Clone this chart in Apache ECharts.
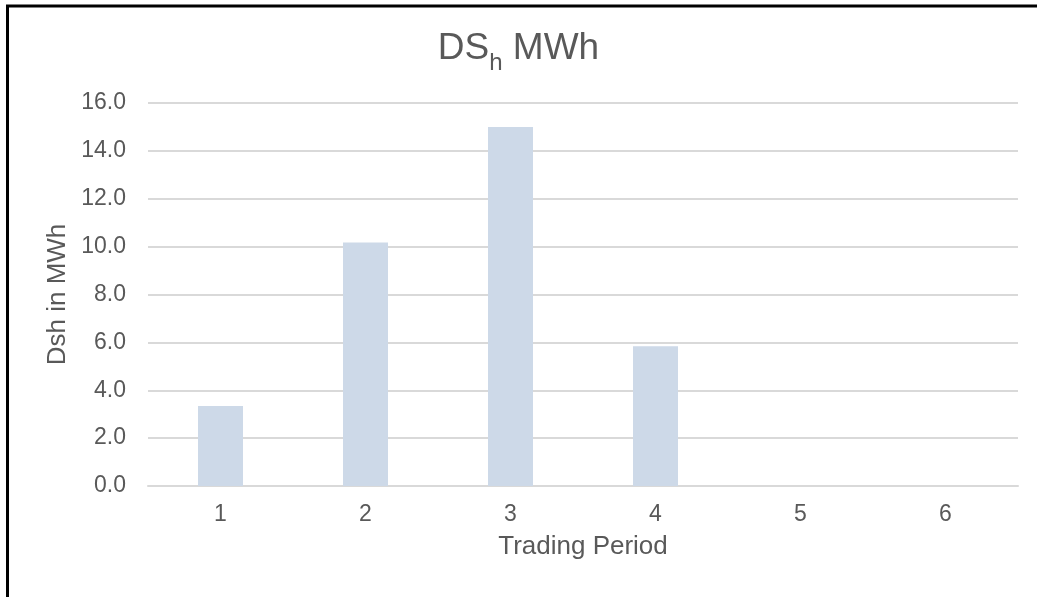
<!DOCTYPE html>
<html>
<head>
<meta charset="utf-8">
<script src="https://cdn.jsdelivr.net/npm/echarts@6/dist/echarts.min.js"></script>
<style>
html,body{margin:0;padding:0;background:#fff;}
#chart{width:1037px;height:597px;}
</style>
</head>
<body>
<div id="chart"></div>
<script>
const categories = ['1', '2', '3', '4', '5', '6'];
const dshValues = [3.34, 10.17, 15.0, 5.84, 0, 0];
const yTicks = { min: 0, max: 16, interval: 2 };

const FONT = '"Liberation Sans", Arial, sans-serif';
const TXT = '#595959';

const chart = echarts.init(document.getElementById('chart'), null, { renderer: 'canvas' });
chart.setOption({
  backgroundColor: '#ffffff',
  animation: false,
  title: {
    text: '{a|DS}{s|h}{a| MWh}',
    left: 'center',
    top: 22,
    textStyle: {
      fontWeight: 'normal',
      rich: {
        a: { fontFamily: FONT, fontSize: 37, fontWeight: 'normal', color: TXT, verticalAlign: 'bottom', lineHeight: 40 },
        s: { fontFamily: FONT, fontSize: 24, fontWeight: 'normal', color: TXT, verticalAlign: 'bottom', lineHeight: 40, padding: [0, 0, -8, 0] }
      }
    }
  },
  graphic: [{
    type: 'rect',
    shape: { x: 7.5, y: 6, width: 1200, height: 800 },
    style: { fill: 'none', stroke: '#000', lineWidth: 3 },
    silent: true,
    z: 100
  }],
  grid: { left: 148, right: 19, top: 103, bottom: 111, containLabel: false },
  xAxis: {
    type: 'category',
    data: categories,
    name: 'Trading Period',
    nameLocation: 'middle',
    nameGap: 48,
    nameTextStyle: { fontFamily: FONT, fontSize: 26, color: TXT },
    axisLine: { show: true, lineStyle: { color: '#D9D9D9', width: 2 } },
    axisTick: { show: false },
    axisLabel: { fontFamily: FONT, fontSize: 23, color: TXT, margin: 17 },
    splitLine: { show: false }
  },
  yAxis: {
    type: 'value',
    min: yTicks.min,
    max: yTicks.max,
    interval: yTicks.interval,
    name: 'Dsh in MWh',
    nameLocation: 'middle',
    nameGap: 77,
    nameTextStyle: { fontFamily: FONT, fontSize: 26, color: TXT },
    axisLine: { show: false },
    axisTick: { show: false },
    axisLabel: {
      fontFamily: FONT, fontSize: 23, color: TXT, margin: 22,
      formatter: v => v.toFixed(1)
    },
    splitLine: { show: true, lineStyle: { color: '#D9D9D9', width: 2 } }
  },
  series: [{
    type: 'bar',
    data: dshValues,
    barWidth: 45,
    itemStyle: { color: '#CDD9E8' }
  }]
});
</script>
</body>
</html>
